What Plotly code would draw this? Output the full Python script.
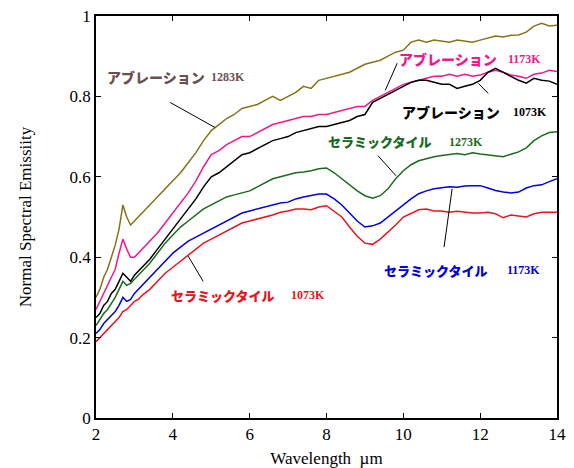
import plotly.graph_objects as go

wavelength = [2.0, 2.1, 2.2, 2.3, 2.4, 2.5, 2.6, 2.7, 2.8, 2.9, 3.0, 3.1, 3.2,
              3.4, 3.6, 3.8, 4.0, 4.2, 4.4, 4.6, 4.8, 5.0, 5.2, 5.4, 5.6, 5.8,
              6.0, 6.2, 6.4, 6.6, 6.8, 7.0, 7.2, 7.4, 7.6, 7.8, 8.0, 8.2, 8.4,
              8.6, 8.8, 9.0, 9.2, 9.4, 9.6, 9.8, 10.0, 10.2, 10.4, 10.6, 10.8,
              11.0, 11.2, 11.4, 11.6, 11.8, 12.0, 12.2, 12.4, 12.6, 12.8, 13.0,
              13.2, 13.4, 13.6, 13.8, 14.0]

abl_1283 = [0.30, 0.32, 0.35, 0.37, 0.40, 0.43, 0.47, 0.53, 0.50, 0.48, 0.49, 0.50, 0.51,
            0.53, 0.55, 0.57, 0.59, 0.61, 0.635, 0.66, 0.69, 0.715, 0.73, 0.745, 0.755, 0.77,
            0.775, 0.78, 0.79, 0.80, 0.79, 0.80, 0.81, 0.825, 0.82, 0.84, 0.845, 0.85, 0.855,
            0.86, 0.87, 0.88, 0.885, 0.89, 0.90, 0.91, 0.915, 0.935, 0.94, 0.935, 0.94,
            0.937, 0.935, 0.94, 0.938, 0.935, 0.94, 0.945, 0.95, 0.948, 0.952, 0.953,
            0.96, 0.975, 0.982, 0.975, 0.977]

abl_1173 = [0.27, 0.29, 0.31, 0.33, 0.35, 0.37, 0.41, 0.445, 0.42, 0.40, 0.40, 0.41, 0.42,
            0.44, 0.46, 0.485, 0.51, 0.535, 0.56, 0.59, 0.625, 0.655, 0.665, 0.68, 0.69, 0.70,
            0.70, 0.71, 0.72, 0.73, 0.735, 0.74, 0.745, 0.75, 0.75, 0.755, 0.755, 0.76, 0.765,
            0.77, 0.775, 0.775, 0.79, 0.80, 0.81, 0.82, 0.83, 0.835, 0.84, 0.845, 0.85,
            0.85, 0.855, 0.85, 0.855, 0.85, 0.853, 0.86, 0.865, 0.86, 0.853, 0.85,
            0.845, 0.855, 0.858, 0.865, 0.862]

abl_1073 = [0.25, 0.26, 0.28, 0.29, 0.31, 0.32, 0.34, 0.36, 0.35, 0.34, 0.355, 0.365, 0.375,
            0.395, 0.42, 0.445, 0.47, 0.495, 0.52, 0.545, 0.575, 0.60, 0.61, 0.625, 0.64, 0.655,
            0.66, 0.67, 0.68, 0.69, 0.695, 0.70, 0.71, 0.715, 0.72, 0.725, 0.725, 0.73, 0.735,
            0.74, 0.75, 0.755, 0.785, 0.795, 0.805, 0.815, 0.825, 0.835, 0.84, 0.84, 0.835,
            0.83, 0.83, 0.82, 0.825, 0.83, 0.84, 0.86, 0.87, 0.86, 0.85, 0.84,
            0.833, 0.845, 0.84, 0.838, 0.83]

cer_1273 = [0.23, 0.245, 0.26, 0.27, 0.285, 0.30, 0.32, 0.34, 0.33, 0.335, 0.345, 0.355, 0.365,
            0.385, 0.41, 0.435, 0.455, 0.475, 0.49, 0.505, 0.52, 0.53, 0.54, 0.55, 0.555, 0.56,
            0.565, 0.575, 0.585, 0.595, 0.60, 0.605, 0.61, 0.612, 0.615, 0.62, 0.622, 0.61, 0.595,
            0.58, 0.565, 0.553, 0.547, 0.553, 0.57, 0.595, 0.615, 0.63, 0.64, 0.645, 0.65,
            0.653, 0.655, 0.658, 0.655, 0.66, 0.657, 0.655, 0.652, 0.65, 0.656, 0.662,
            0.672, 0.69, 0.702, 0.71, 0.712]

cer_1173 = [0.21, 0.22, 0.235, 0.245, 0.255, 0.265, 0.28, 0.30, 0.29, 0.295, 0.31, 0.32, 0.33,
            0.35, 0.37, 0.39, 0.41, 0.425, 0.44, 0.45, 0.46, 0.47, 0.48, 0.49, 0.50, 0.51,
            0.515, 0.52, 0.525, 0.53, 0.535, 0.537, 0.545, 0.55, 0.553, 0.557, 0.557, 0.545, 0.53,
            0.51, 0.49, 0.475, 0.478, 0.485, 0.50, 0.517, 0.532, 0.545, 0.558, 0.565, 0.57,
            0.572, 0.575, 0.574, 0.577, 0.578, 0.578, 0.572, 0.566, 0.562, 0.56, 0.562,
            0.572, 0.578, 0.58, 0.588, 0.595]

cer_1073 = [0.19, 0.20, 0.21, 0.22, 0.23, 0.24, 0.25, 0.265, 0.27, 0.28, 0.29, 0.295, 0.305,
            0.32, 0.34, 0.36, 0.375, 0.39, 0.405, 0.42, 0.435, 0.445, 0.455, 0.465, 0.475, 0.485,
            0.49, 0.495, 0.50, 0.505, 0.512, 0.515, 0.52, 0.52, 0.518, 0.525, 0.528, 0.515, 0.50,
            0.475, 0.452, 0.435, 0.432, 0.445, 0.462, 0.48, 0.50, 0.51, 0.518, 0.52, 0.515,
            0.515, 0.512, 0.514, 0.512, 0.51, 0.51, 0.512, 0.508, 0.498, 0.505, 0.503,
            0.50, 0.508, 0.512, 0.512, 0.512]

series = [
    ("アブレーション 1283K", abl_1283, "#85731a"),
    ("アブレーション 1173K", abl_1173, "#f0198c"),
    ("アブレーション 1073K", abl_1073, "#000000"),
    ("セラミックタイル 1273K", cer_1273, "#1a6b1e"),
    ("セラミックタイル 1173K", cer_1173, "#0000e0"),
    ("セラミックタイル 1073K", cer_1073, "#e8141e"),
]

# label: (name text, temp text, color, name x, temp x, y, name size)
labels = [
    ("アブレーション", "1283K", "#6b5050", 3.56, 5.44, 0.848, 14),
    ("アブレーション", "1173K", "#f0198c", 11.17, 13.15, 0.892, 14),
    ("アブレーション", "1073K", "#000000", 11.24, 13.30, 0.762, 14),
    ("セラミックタイル", "1273K", "#1a6b1e", 9.37, 11.63, 0.687, 13),
    ("セラミックタイル", "1173K", "#0000e0", 10.83, 13.12, 0.367, 13),
    ("セラミックタイル", "1073K", "#e8141e", 5.28, 7.52, 0.305, 13),
]

leaders = [
    (3.93, 0.785, 5.10, 0.7225),
    (9.84, 0.8825, 9.53, 0.815),
    (11.95, 0.8325, 12.21, 0.8075),
    (9.34, 0.6525, 9.81, 0.6025),
    (11.27, 0.57, 11.06, 0.425),
    (4.40, 0.4025, 4.79, 0.34),
]

fig = go.Figure()
for name, vals, col in series:
    fig.add_trace(go.Scatter(x=wavelength, y=vals, mode="lines", name=name,
                             line=dict(color=col, width=1.5), showlegend=False))

annotations = []
for nm, tp, col, xn, xt, yv, sz in labels:
    annotations.append(dict(x=xn, y=yv, xref="x", yref="y", text=nm,
                            showarrow=False,
                            font=dict(family="Noto Sans CJK JP", size=sz, color=col,
                                      weight=900)))
    annotations.append(dict(x=xt, y=yv, xref="x", yref="y", text="<b>" + tp + "</b>",
                            showarrow=False,
                            font=dict(family="Liberation Serif", size=12, color=col)))

shapes = [dict(type="line", xref="x", yref="y", x0=a, y0=b, x1=c, y1=d,
               line=dict(color="#000000", width=1)) for a, b, c, d in leaders]

axis_common = dict(showline=True, linecolor="#000000", linewidth=1.5, mirror="ticks",
                   ticks="inside", ticklen=5, tickcolor="#000000", showgrid=False,
                   zeroline=False, automargin=False,
                   tickfont=dict(family="Liberation Serif", size=17, color="#000000"))

fig.update_layout(
    width=574, height=468,
    margin=dict(l=96, r=17, t=16, b=50),
    paper_bgcolor="#ffffff", plot_bgcolor="#ffffff",
    xaxis=dict(range=[2, 14], tickvals=[2, 4, 6, 8, 10, 12, 14],
               title=dict(text="Wavelength  µm", standoff=10,
                          font=dict(family="Liberation Serif", size=17, color="#000000")),
               **axis_common),
    yaxis=dict(range=[0, 1], tickvals=[0, 0.2, 0.4, 0.6, 0.8, 1],
               ticktext=["0", "0.2", "0.4", "0.6", "0.8", "1"],
               title=dict(text="Normal Spectral Emissiity", standoff=34,
                          font=dict(family="Liberation Serif", size=17, color="#000000")),
               **axis_common),
    annotations=annotations,
    shapes=shapes,
)

fig.write_html("out.html")
